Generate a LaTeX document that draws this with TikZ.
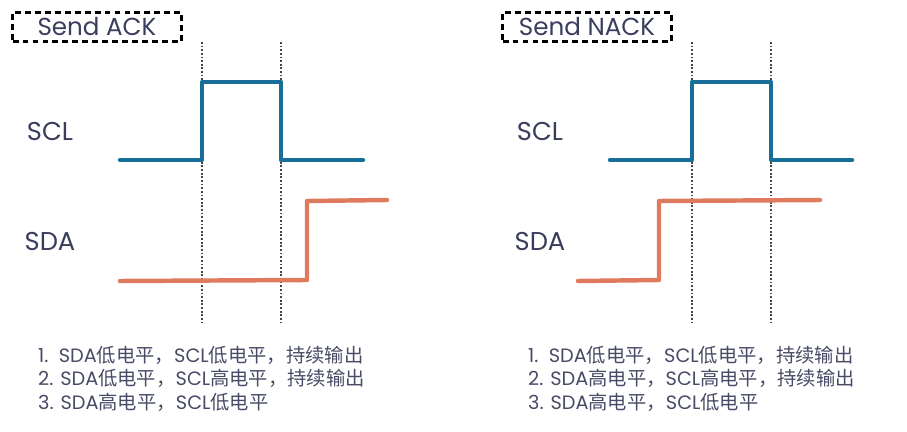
\documentclass[tikz,border=0pt]{standalone}
\usepackage{fontspec}
\setmainfont{Poppins}
\newfontfamily\cjk{Noto Sans CJK SC}
\newcommand\zh[1]{{\cjk #1}}
\usetikzlibrary{calc, positioning}

\definecolor{inkgray}{RGB}{58,61,92}
\definecolor{listgray}{RGB}{72,75,102}
\definecolor{sclblue}{RGB}{24,110,152}
\definecolor{sdared}{RGB}{224,122,95}

\tikzset{
  titlebox/.style={draw=black, line width=2pt, dash pattern=on 5pt off 3.5pt,
    minimum width=144pt, minimum height=25pt, inner sep=0pt,
    text=inkgray, font=\fontsize{21}{21}\selectfont},
  siglabel/.style={text=inkgray, font=\fontsize{22}{22}\selectfont},
  clk/.style={sclblue, line width=3.8pt, line join=round, line cap=round},
  dat/.style={sdared, line width=3.8pt, line join=round, line cap=round},
  edge/.style={gray!55!black, line width=0.9pt, dash pattern=on 1.5pt off 1.6pt},
  steplist/.style={text=listgray, anchor=west, inner sep=0pt,
    font=\fontsize{16.5}{16.5}\selectfont}
}

\begin{document}
\begin{tikzpicture}[x=0.03cm, y=-0.03cm]
\useasboundingbox (0,0) rectangle (907,432);

% ---- Send ACK
\node[titlebox] (ackT) at (97,27) {Send ACK};
\node[siglabel] (ackC) at (50,131) {SCL};
\node[siglabel] (ackD) at (50,241) {SDA};

\coordinate (ackE1) at (202,42);
\coordinate (ackF1) at (202,323);
\coordinate (ackE2) at (281,42);
\coordinate (ackF2) at (281,323);
\draw[edge] (ackE1) -- (ackF1);
\draw[edge] (ackE2) -- (ackF2);

\draw[clk] (120,160) -- (202,160) -- (202,82) -- (281,82) -- (281,160) -- (363,160);
\draw[dat] (120,281) -- (307,280) -- (307,201) -- (387,200);

\node[steplist] (ack1) at (38,355) {1.\ \ SDA\zh{低电平，}SCL\zh{低电平，持续输出}};
\node[steplist] (ack2) at (38,378) {2. SDA\zh{低电平，}SCL\zh{高电平，持续输出}};
\node[steplist] (ack3) at (38,402) {3. SDA\zh{高电平，}SCL\zh{低电平}};

% ---- Send NACK
\node[titlebox] (nakT) at (587,27) {Send NACK};
\node[siglabel] (nakC) at (540,131) {SCL};
\node[siglabel] (nakD) at (540,241) {SDA};

\coordinate (nakE1) at (692,42);
\coordinate (nakF1) at (692,323);
\coordinate (nakE2) at (771,42);
\coordinate (nakF2) at (771,323);
\draw[edge] (nakE1) -- (nakF1);
\draw[edge] (nakE2) -- (nakF2);

\draw[clk] (610,160) -- (692,160) -- (692,82) -- (771,82) -- (771,160) -- (852,160);
\draw[dat] (578,281) -- (659,280) -- (659,201) -- (820,200);

\node[steplist] (nak1) at (528,355) {1.\ \ SDA\zh{低电平，}SCL\zh{低电平，持续输出}};
\node[steplist] (nak2) at (528,378) {2. SDA\zh{高电平，}SCL\zh{高电平，持续输出}};
\node[steplist] (nak3) at (528,402) {3. SDA\zh{高电平，}SCL\zh{低电平}};
\end{tikzpicture}
\end{document}
